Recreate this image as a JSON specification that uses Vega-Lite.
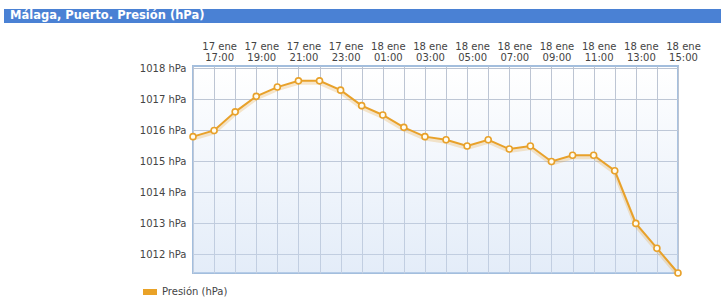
{
  "$schema": "https://vega.github.io/schema/vega-lite/v6.json",
  "padding": {"left": 4, "top": 9, "right": 0, "bottom": 0},
  "background": "white",
  "spacing": 17,
  "config": {
    "font": "DejaVu Sans",
    "axis": {"labelFont": "DejaVu Sans", "labelFontSize": 10, "labelColor": "#444444"},
    "legend": {"labelFont": "DejaVu Sans", "labelFontSize": 10, "labelColor": "#444444"}
  },
  "datasets": {
    "pres": [
      {"t": "2024-01-17T16:00:00", "p": 1015.8},
      {"t": "2024-01-17T17:00:00", "p": 1016.0},
      {"t": "2024-01-17T18:00:00", "p": 1016.6},
      {"t": "2024-01-17T19:00:00", "p": 1017.1},
      {"t": "2024-01-17T20:00:00", "p": 1017.4},
      {"t": "2024-01-17T21:00:00", "p": 1017.6},
      {"t": "2024-01-17T22:00:00", "p": 1017.6},
      {"t": "2024-01-17T23:00:00", "p": 1017.3},
      {"t": "2024-01-18T00:00:00", "p": 1016.8},
      {"t": "2024-01-18T01:00:00", "p": 1016.5},
      {"t": "2024-01-18T02:00:00", "p": 1016.1},
      {"t": "2024-01-18T03:00:00", "p": 1015.8},
      {"t": "2024-01-18T04:00:00", "p": 1015.7},
      {"t": "2024-01-18T05:00:00", "p": 1015.5},
      {"t": "2024-01-18T06:00:00", "p": 1015.7},
      {"t": "2024-01-18T07:00:00", "p": 1015.4},
      {"t": "2024-01-18T08:00:00", "p": 1015.5},
      {"t": "2024-01-18T09:00:00", "p": 1015.0},
      {"t": "2024-01-18T10:00:00", "p": 1015.2},
      {"t": "2024-01-18T11:00:00", "p": 1015.2},
      {"t": "2024-01-18T12:00:00", "p": 1014.7},
      {"t": "2024-01-18T13:00:00", "p": 1013.0},
      {"t": "2024-01-18T14:00:00", "p": 1012.2},
      {"t": "2024-01-18T15:00:00", "p": 1011.4}
    ]
  },
  "vconcat": [
    {
      "width": 717,
      "height": 14,
      "view": {"fill": "#4a81d4", "stroke": null},
      "data": {"values": [{"title": "Málaga, Puerto. Presión (hPa)"}]},
      "mark": {"type": "text", "align": "left", "baseline": "middle", "color": "white", "font": "DejaVu Sans", "fontWeight": "bold", "fontSize": 11.5, "dx": 6},
      "encoding": {
        "text": {"field": "title", "type": "nominal"},
        "x": {"datum": 0, "type": "quantitative", "scale": {"domain": [0, 1]}, "axis": null}
      }
    },
    {
      "spacing": 0,
      "hconcat": [
        {
          "width": 134,
          "height": 207,
          "view": {"stroke": null},
          "data": {"values": [{"a": 1}]},
          "mark": {"type": "point", "opacity": 0},
          "encoding": {}
        },
        {
          "width": 485,
          "height": 207,
          "view": {"stroke": "#a3bedd", "strokeWidth": 2, "fill": "#ffffff"},
          "data": {"name": "pres"},
          "encoding": {
            "x": {
              "field": "t", "type": "temporal", "title": null,
              "scale": {"nice": false, "padding": 0},
              "axis": {
                "orient": "top",
                "domain": false, "ticks": false,
                "grid": true, "gridColor": "#bcc4d2", "gridWidth": 1,
                "tickCount": 24,
                "labelOverlap": false, "labelFlush": false, "labelBound": false,
                "labelAngle": 0, "labelAlign": "center", "labelBaseline": "bottom",
                "labelPadding": 15, "labelOffset": 5, "labelLineHeight": 11.5,
                "labelExpr": "hours(datum.value) % 2 == 1 ? [timeFormat(datum.value, '%d') + ' ene', timeFormat(datum.value, '%H:%M')] : ''"
              }
            },
            "y": {
              "field": "p", "type": "quantitative", "title": null,
              "scale": {"domain": [1011.4, 1018.08], "nice": false, "zero": false},
              "axis": {
                "values": [1012, 1013, 1014, 1015, 1016, 1017, 1018],
                "domain": false, "ticks": false,
                "grid": true, "gridColor": "#bcc4d2", "gridWidth": 1,
                "labelPadding": 7, "labelOverlap": false,
                "labelExpr": "datum.value + ' hPa'"
              }
            }
          },
          "layer": [
            {
              "data": {"values": [{"a": 1}]},
              "mark": {
                "type": "rect",
                "fill": {"gradient": "linear", "x1": 0, "y1": 0, "x2": 0, "y2": 1,
                         "stops": [{"offset": 0, "color": "rgba(200,218,242,0)"}, {"offset": 1, "color": "rgba(200,218,242,0.5)"}]}
              },
              "encoding": {
                "x": {"value": 0},
                "x2": {"value": "width"},
                "y": {"value": 0},
                "y2": {"value": "height"}
              }
            },
            {
              "mark": {"type": "line", "color": "#e8a12a", "strokeWidth": 4, "opacity": 0.25, "yOffset": 2, "clip": false}
            },
            {
              "mark": {"type": "line", "color": "#e8a12a", "strokeWidth": 2, "clip": false}
            },
            {
              "mark": {"type": "point", "filled": true, "fill": "#fffdf2", "stroke": "#e8a12a", "strokeWidth": 1.6, "size": 36, "opacity": 1, "clip": false}
            },
            {
              "mark": {"type": "square", "opacity": 0},
              "encoding": {
                "color": {
                  "datum": "Presión (hPa)",
                  "type": "nominal",
                  "scale": {"range": ["#e9a227"]},
                  "legend": {
                    "title": null,
                    "orient": "none",
                    "legendX": 139,
                    "legendY": 276,
                    "symbolType": "M-1,-0.43H1V0.43H-1Z",
                    "symbolSize": 196,
                    "symbolStrokeWidth": 0,
                    "symbolOpacity": 1,
                    "labelOffset": 5,
                    "padding": 0
                  }
                }
              }
            }
          ]
        }
      ]
    }
  ]
}
